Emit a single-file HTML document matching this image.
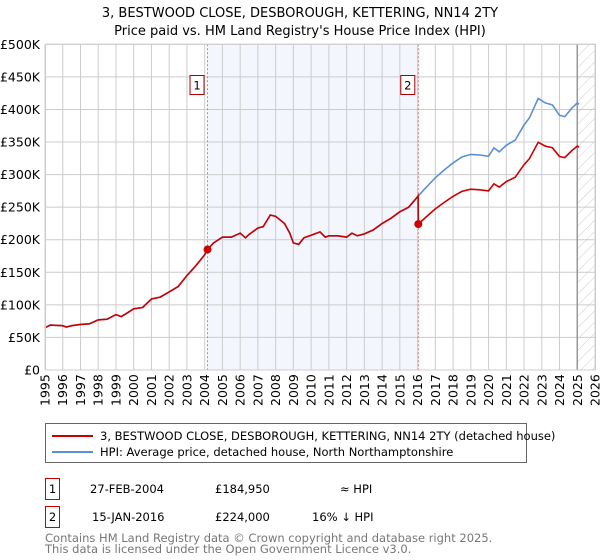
<!DOCTYPE html>
<html><head><meta charset="utf-8"><style>
body{margin:0;background:#fff;font-family:"Liberation Sans","DejaVu Sans",sans-serif;}
svg{display:block}
</style></head><body>
<svg id="c" width="600" height="560" xmlns="http://www.w3.org/2000/svg" font-family="'DejaVu Sans','Liberation Sans',sans-serif">
<defs><pattern id="h" width="8" height="8" patternUnits="userSpaceOnUse" patternTransform="rotate(45)"><line x1="0" y1="0" x2="0" y2="8" stroke="#ccc" stroke-width="1"/></pattern></defs>
<text x="300" y="17" text-anchor="middle" font-size="13">3, BESTWOOD CLOSE, DESBOROUGH, KETTERING, NN14 2TY</text>
<text x="300" y="35" text-anchor="middle" font-size="13">Price paid vs. HM Land Registry's House Price Index (HPI)</text>
<g id="plot"></g>
<g>
<rect x="45.5" y="423.5" width="481" height="39" fill="#fff" stroke="#666"/>
<line x1="52" y1="436" x2="93" y2="436" stroke="#cc0000" stroke-width="2"/>
<text x="100" y="440" font-size="11.5">3, BESTWOOD CLOSE, DESBOROUGH, KETTERING, NN14 2TY (detached house)</text>
<line x1="52" y1="452" x2="93" y2="452" stroke="#5b8fd6" stroke-width="2"/>
<text x="100" y="456" font-size="11.5">HPI: Average price, detached house, North Northamptonshire</text>
</g>
<g font-size="11.5">
<rect x="45.5" y="478.5" width="14" height="21" fill="#fff" stroke="#cc0000"/>
<text x="52.5" y="493" text-anchor="middle">1</text>
<text x="90" y="493">27-FEB-2004</text><text x="215" y="493">£184,950</text><text x="340" y="493">≈ HPI</text>
<rect x="45.5" y="506.5" width="14" height="21" fill="#fff" stroke="#cc0000"/>
<text x="52.5" y="521" text-anchor="middle">2</text>
<text x="92" y="521">15-JAN-2016</text><text x="215" y="521">£224,000</text><text x="312" y="521">16% ↓ HPI</text>
</g>
<text x="45" y="542" font-size="11.5" fill="#777">Contains HM Land Registry data © Crown copyright and database right 2025.</text>
<text x="45" y="553" font-size="11.5" fill="#777">This data is licensed under the Open Government Licence v3.0.</text>
</svg>
<script>
const yTicks=[0,50000,100000,150000,200000,250000,300000,350000,400000,450000,500000];
const yLabels=["£0","£50K","£100K","£150K","£200K","£250K","£300K","£350K","£400K","£450K","£500K"];
const years=[1995,1996,1997,1998,1999,2000,2001,2002,2003,2004,2005,2006,2007,2008,2009,2010,2011,2012,2013,2014,2015,2016,2017,2018,2019,2020,2021,2022,2023,2024,2025,2026];
const hpiDates=[1995.0,1995.3,1996.0,1996.2,1996.5,1997.0,1997.5,1998.0,1998.5,1999.0,1999.3,1999.6,2000.0,2000.5,2001.0,2001.5,2002.0,2002.5,2003.0,2003.5,2004.0,2004.16,2004.5,2005.0,2005.5,2006.0,2006.3,2006.5,2007.0,2007.3,2007.7,2008.0,2008.5,2008.8,2009.0,2009.3,2009.6,2010.0,2010.5,2010.8,2011.0,2011.5,2012.0,2012.3,2012.6,2013.0,2013.5,2014.0,2014.5,2015.0,2015.5,2016.0,2016.5,2017.0,2017.5,2018.0,2018.5,2019.0,2019.5,2020.0,2020.3,2020.6,2021.0,2021.5,2022.0,2022.3,2022.8,2023.2,2023.6,2024.0,2024.3,2024.7,2025.0,2025.1];
const hpiValues=[65000,69000,68000,66000,68000,70000,71000,77000,78000,85000,82000,87000,94000,96000,109000,112000,120000,128000,145000,160000,177000,185000,195000,204000,204000,210000,203000,208000,218000,220000,238000,236000,225000,210000,195000,193000,203000,207000,212000,204000,206000,206000,204000,210000,206000,209000,215000,225000,233000,243000,250000,266000,281000,295000,307000,318000,327000,331000,330000,328000,341000,335000,345000,353000,376000,387000,417000,410000,407000,391000,389000,402000,410000,408000];
const saleDates=[2004.16,2016.04];
const salePrices=[184950,224000];
const X0=45,X1=595,Y0=370,Y1=44.3;
const x=d=>X0+(d-1995)/31*(X1-X0);
const y=v=>Y0-v/500000*(Y0-Y1);
const NS="http://www.w3.org/2000/svg";
const g=document.getElementById('plot');
function mk(t,a,p){const e=document.createElementNS(NS,t);for(const k in a)e.setAttribute(k,a[k]);(p||g).appendChild(e);return e;}
let e;
e=mk('rect',{x:x(saleDates[0]),y:Y1,width:x(saleDates[1])-x(saleDates[0]),height:Y0-Y1,fill:'#f3f6fd'});


e=mk('rect',{x:x(2025),y:Y1,width:X1-x(2025),height:Y0-Y1,fill:'url(#h)'});


yTicks.forEach((v,i)=>{
 e=mk('line',{x1:X0,x2:X1,y1:y(v),y2:y(v),stroke:'#ccc'});
 
 
 e=mk('text',{x:X0-5,y:y(v)+4.5,'text-anchor':'end','font-size':'12.5'});
 e.textContent=yLabels[i];
 
 
});
years.forEach(yr=>{
 e=mk('line',{x1:x(yr),x2:x(yr),y1:Y1,y2:Y0,stroke:'#ccc'});
 
 
 e=mk('text',{transform:`translate(${x(yr)+4.5},406) rotate(-90)`,'font-size':'12.5'});
 e.textContent=yr;
 
 
});
e=mk('line',{x1:x(2025),x2:x(2025),y1:Y1,y2:Y0,stroke:'#999','stroke-width':1.5});


saleDates.forEach((d,i)=>{
 e=mk('line',{x1:x(d),x2:x(d),y1:Y1,y2:Y0,stroke:'#f07070','stroke-dasharray':'2,2'});
 
 
 e=mk('rect',{x:x(d)-17.5,y:75.5,width:14,height:19,fill:'#fff',stroke:'#aa0000'});
 
 
 e=mk('text',{x:x(d)-10.5,y:89.5,'text-anchor':'middle','font-size':'11.5'});
 e.textContent=String(i+1);
 
 
});
let hp=hpiDates.map((d,i)=>`${x(d).toFixed(1)},${y(hpiValues[i]).toFixed(1)}`).join(' ');
e=mk('polyline',{points:hp,fill:'none',stroke:'#5b8fd6','stroke-width':1.6});


function hpiAt(d){for(let i=1;i<hpiDates.length;i++){if(d<=hpiDates[i]){const t=(d-hpiDates[i-1])/(hpiDates[i]-hpiDates[i-1]);return hpiValues[i-1]+t*(hpiValues[i]-hpiValues[i-1]);}}return hpiValues[hpiValues.length-1];}
const r1=salePrices[0]/hpiAt(saleDates[0]), r2=salePrices[1]/hpiAt(saleDates[1]);
let pts=[];
hpiDates.forEach((d,i)=>{if(d<saleDates[1])pts.push([d,hpiValues[i]*r1]);});
pts.push([saleDates[1]-0.01,hpiAt(saleDates[1])*r1]);
pts.push([saleDates[1],salePrices[1]]);
hpiDates.forEach((d,i)=>{if(d>saleDates[1])pts.push([d,hpiValues[i]*r2]);});
e=mk('polyline',{points:pts.map(p=>`${x(p[0]).toFixed(1)},${y(p[1]).toFixed(1)}`).join(' '),fill:'none',stroke:'#cc0000','stroke-width':1.6});


saleDates.forEach((d,i)=>{
 e=mk('circle',{cx:x(d),cy:y(salePrices[i]),r:4,fill:'#cc0000'});
 
 
});
e=mk('rect',{x:X0+0.5,y:Y1,width:X1-X0,height:Y0-Y1,fill:'none',stroke:'#ccc'});


</script>
</body></html>
